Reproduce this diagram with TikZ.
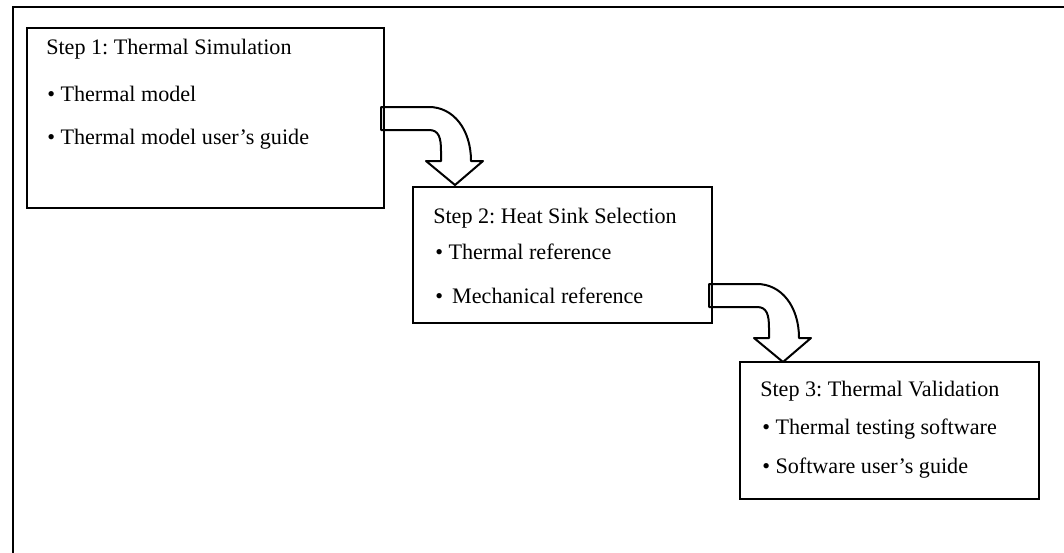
\documentclass[tikz,border=0pt]{standalone}
\usepackage{fontspec}
\setmainfont{Liberation Serif}
\usetikzlibrary{positioning,calc}
\frenchspacing

\newcommand{\bentarrow}[1]{\draw[arrowline] (#1) -- ++(48,0)
  .. controls +(24,0) and +(0,-32) .. ++(42,54) -- ++(12,0) -- ++(-28,24)
  -- ++(-29,-24) -- ++(15,0) -- ++(0,-10)
  .. controls +(0,-13) and +(10,0) .. ++(-12,-21) -- ++(-48,0) -- cycle;}

\begin{document}
\begin{tikzpicture}[x=0.75pt,y=-0.75pt,
  stepbox/.style={draw,line width=1.5pt,rectangle,anchor=north west,inner sep=0pt,outer sep=0pt},
  txt/.style={anchor=base west,inner sep=0pt,font=\fontsize{16.6}{20}\selectfont},
  arrowline/.style={line width=1.5pt,line join=round}]
\useasboundingbox (0,0) rectangle (1064,553);
\draw[line width=1.5pt] (13,553) -- (13,7) -- (1064,7);

\node[stepbox,minimum width=357*0.75pt,minimum height=180*0.75pt] (s1) at (27,28) {};
\node[stepbox,minimum width=299*0.75pt,minimum height=136*0.75pt] (s2) at (413,187) {};
\node[stepbox,minimum width=299*0.75pt,minimum height=137*0.75pt] (s3) at (740,362) {};

\node[txt] (s1t) at (46,54) {Step 1: Thermal Simulation};
\node[txt] (s1a) at (47,101) {• Thermal model};
\node[txt] (s1b) at (47,144) {• Thermal model user’s guide};

\node[txt] (s2t) at (433,223) {Step 2: Heat Sink Selection};
\node[txt] (s2a) at (435,259) {• Thermal reference};
\node[txt] (s2b) at (435,303) {• \,Mechanical reference};

\node[txt] (s3t) at (760,396) {Step 3: Thermal Validation};
\node[txt] (s3a) at (762,434) {• Thermal testing software};
\node[txt] (s3b) at (762,473) {• Software user’s guide};

\coordinate (t1) at ($(s1.north east)+(-3,79)$);
\coordinate (t2) at ($(s2.north east)+(-3,97)$);
\bentarrow{t1}
\bentarrow{t2}
\end{tikzpicture}
\end{document}
